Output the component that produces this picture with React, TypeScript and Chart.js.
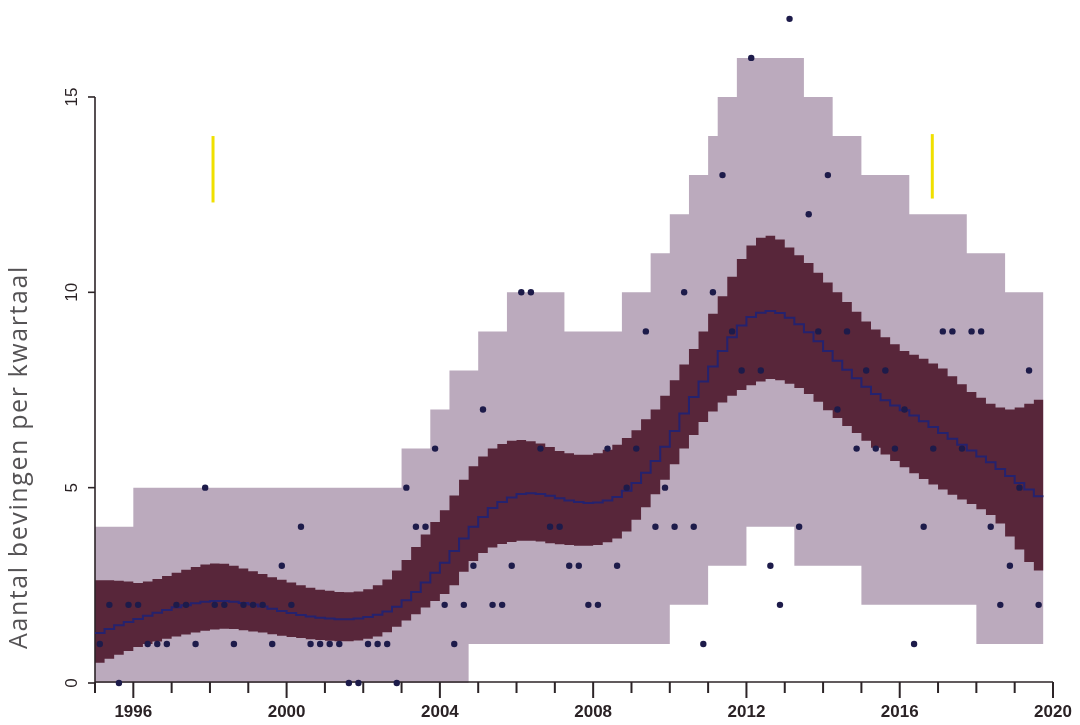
import React, { useEffect, useRef } from 'react';
import { Chart, registerables } from 'chart.js';

Chart.register(...registerables);

// ---- data (quarterly, first quarter = 1995 Q1) ----
const START_YEAR = 1995;

// outer (prediction) band, per quarter
const outerUpper = [
  4, 4, 4, 4,
  5, 5, 5, 5, 5, 5, 5, 5, 5, 5, 5, 5, 5, 5, 5, 5, 5, 5, 5, 5, 5, 5, 5, 5, 5, 5, 5, 5,
  6, 6, 6, 7, 7, 8, 8, 8, 9, 9, 9,
  10, 10, 10, 10, 10, 10,
  9, 9, 9, 9, 9, 9,
  10, 10, 10, 11, 11, 12, 12, 13, 13, 14, 15, 15,
  16, 16, 16, 16, 16, 16, 16,
  15, 15, 15, 14, 14, 14,
  13, 13, 13, 13, 13,
  12, 12, 12, 12, 12, 12,
  11, 11, 11, 11,
  10, 10, 10, 10,
];
const outerLower = [
  0, 0, 0, 0, 0, 0, 0, 0, 0, 0, 0, 0, 0, 0, 0, 0, 0, 0, 0, 0,
  0, 0, 0, 0, 0, 0, 0, 0, 0, 0, 0, 0, 0, 0, 0, 0, 0, 0, 0,
  1, 1, 1, 1, 1, 1, 1, 1, 1, 1, 1, 1, 1, 1, 1, 1, 1, 1, 1, 1, 1,
  2, 2, 2, 2,
  3, 3, 3, 3,
  4, 4, 4, 4, 4,
  3, 3, 3, 3, 3, 3, 3,
  2, 2, 2, 2, 2, 2, 2, 2, 2, 2, 2, 2,
  1, 1, 1, 1, 1, 1, 1,
];

// inner (confidence) band, per quarter
const innerUpper = [
  2.63, 2.63, 2.62, 2.6, 2.56, 2.6, 2.66, 2.74, 2.82, 2.9,
  2.97, 3.03, 3.06, 3.05, 3.0, 2.93, 2.86, 2.79, 2.71, 2.64,
  2.57, 2.5, 2.44, 2.39, 2.36, 2.33, 2.32, 2.34, 2.4, 2.5,
  2.65, 2.88, 3.15, 3.48, 3.8, 4.12, 4.42, 4.8, 5.2, 5.55,
  5.8, 6.0, 6.12, 6.2, 6.22, 6.19, 6.13, 6.04, 5.94, 5.88,
  5.84, 5.84, 5.88, 5.97, 6.1, 6.27, 6.47, 6.75, 7.0, 7.35,
  7.75, 8.15, 8.55, 9.0, 9.45, 9.9, 10.4, 10.85, 11.2, 11.4,
  11.45, 11.35, 11.15, 10.95, 10.75, 10.5, 10.25, 10.0, 9.75, 9.5,
  9.25, 9.05, 8.85, 8.67, 8.5, 8.4, 8.3, 8.18, 8.05, 7.85,
  7.65, 7.45, 7.3, 7.15, 7.05, 7.0, 7.05, 7.15, 7.25,
];
const innerLower = [
  0.52, 0.62, 0.72, 0.82, 0.92, 1.0, 1.06, 1.13, 1.19, 1.24,
  1.29, 1.34, 1.37, 1.39, 1.38, 1.35, 1.32, 1.29, 1.25, 1.21,
  1.18, 1.15, 1.12, 1.1, 1.08, 1.07, 1.07, 1.09, 1.13, 1.19,
  1.3, 1.44, 1.6, 1.76, 1.93, 2.1, 2.28, 2.5, 2.85, 3.12,
  3.33, 3.47, 3.56, 3.61, 3.64, 3.64, 3.62, 3.58, 3.55, 3.53,
  3.51, 3.51, 3.53, 3.6, 3.7, 3.88, 4.18, 4.5, 4.83, 5.2,
  5.6, 6.0, 6.35, 6.68, 6.95, 7.18, 7.35, 7.5, 7.62, 7.72,
  7.78, 7.75, 7.66, 7.55, 7.4, 7.2, 6.98, 6.78, 6.58, 6.4,
  6.2, 6.02, 5.85, 5.68, 5.52, 5.37, 5.22, 5.08, 4.95, 4.82,
  4.7, 4.58, 4.45, 4.3, 4.08, 3.75, 3.42, 3.1, 2.88,
];
const medianLine = [
  1.28, 1.38, 1.48, 1.56, 1.64, 1.72, 1.8, 1.87, 1.94, 1.99,
  2.04, 2.08, 2.1, 2.1, 2.08, 2.05, 2.01, 1.96, 1.9, 1.84,
  1.79, 1.74, 1.7, 1.67, 1.65, 1.63, 1.63, 1.65, 1.69, 1.75,
  1.83, 1.95, 2.12, 2.33, 2.57, 2.82, 3.08, 3.38, 3.7, 4.0,
  4.25, 4.48, 4.63, 4.75, 4.84, 4.86, 4.84, 4.79, 4.73, 4.67,
  4.63, 4.61, 4.62, 4.67, 4.76, 4.92, 5.12, 5.38, 5.68, 6.05,
  6.45, 6.9, 7.32, 7.72, 8.1, 8.5, 8.85, 9.15, 9.37, 9.48,
  9.52, 9.47, 9.35, 9.18, 8.98, 8.75, 8.5, 8.25, 8.02, 7.8,
  7.58, 7.4, 7.24, 7.1, 6.98, 6.85, 6.7, 6.55, 6.4, 6.25,
  6.1, 5.95, 5.8, 5.65, 5.48, 5.3, 5.12, 4.95, 4.78,
];

// observed number of quakes per quarter
const quakeCounts = [
  1, 2, 0, 2, 2, 1, 1, 1, 2, 2,
  1, 5, 2, 2, 1, 2, 2, 2, 1, 3,
  2, 4, 1, 1, 1, 1, 0, 0, 1, 1,
  1, 0, 5, 4, 4, 6, 2, 1, 2, 3,
  7, 2, 2, 3, 10, 10, 6, 4, 4, 3,
  3, 2, 2, 6, 3, 5, 6, 9, 4, 5,
  4, 10, 4, 1, 10, 13, 9, 8, 16, 8,
  3, 2, 17, 4, 12, 9, 13, 7, 9, 6,
  8, 6, 8, 6, 7, 1, 4, 6, 9, 9,
  6, 9, 9, 4, 2, 3, 5, 8, 2,
];

// yellow marker strokes (scan highlights)
const markerYears = [1998.08, 2016.85];
const markerLow = [12.3, 12.4];
const markerHigh = [14.0, 14.05];

const xTickYears = [
  1995, 1996, 1997, 1998, 1999, 2000, 2001, 2002, 2003, 2004, 2005, 2006, 2007,
  2008, 2009, 2010, 2011, 2012, 2013, 2014, 2015, 2016, 2017, 2018, 2019, 2020,
];
const xLabelYears = [1996, 2000, 2004, 2008, 2012, 2016, 2020];
const yTicks = [0, 5, 10, 15];
const yTitle = 'Aantal bevingen per kwartaal';

// ---- helpers ----
const qStart = (i: number) => START_YEAR + i / 4;
const stepSeries = (vals: number[]) => {
  const pts = vals.map((v, i) => ({ x: qStart(i), y: v }));
  pts.push({ x: qStart(vals.length), y: vals[vals.length - 1] });
  return pts;
};

const LIGHT = '#bbaabd';
const DARK = '#58263a';

const axesPlugin = {
  id: 'customAxes',
  afterDatasetDraw(chart: any, args: any) {
    if (args.index !== 4) return;
    const ctx = chart.ctx as CanvasRenderingContext2D;
    const xs = chart.scales.x;
    const ys = chart.scales.y;
    const y0 = ys.getPixelForValue(0) - 1;
    const xLeft = xs.getPixelForValue(xTickYears[0]);
    const xRight = xs.getPixelForValue(xTickYears[xTickYears.length - 1]);
    ctx.save();
    ctx.strokeStyle = '#2c2427';
    ctx.lineCap = 'butt';
    // x axis line
    ctx.lineWidth = 1.6;
    ctx.beginPath();
    ctx.moveTo(xLeft, y0);
    ctx.lineTo(xRight, y0);
    ctx.stroke();
    // x ticks
    ctx.lineWidth = 2;
    xTickYears.forEach((yr) => {
      const px = xs.getPixelForValue(yr);
      const major = xLabelYears.includes(yr);
      ctx.beginPath();
      ctx.moveTo(px, y0);
      ctx.lineTo(px, y0 + (major ? 16 : 11));
      ctx.stroke();
    });
    // x labels
    ctx.fillStyle = '#2a2225';
    ctx.font = 'bold 17px "Liberation Sans", Arial, sans-serif';
    ctx.textAlign = 'center';
    ctx.textBaseline = 'middle';
    xLabelYears.forEach((yr) => {
      ctx.fillText(String(yr), xs.getPixelForValue(yr), 712);
    });
    // y axis line
    const yAxisX = xLeft;
    ctx.lineWidth = 1.6;
    ctx.beginPath();
    ctx.moveTo(yAxisX, ys.getPixelForValue(yTicks[0]));
    ctx.lineTo(yAxisX, ys.getPixelForValue(yTicks[yTicks.length - 1]));
    ctx.stroke();
    // y ticks + labels
    ctx.font = '17px "Liberation Sans", Arial, sans-serif';
    yTicks.forEach((v) => {
      const py = ys.getPixelForValue(v);
      ctx.beginPath();
      ctx.moveTo(yAxisX, py);
      ctx.lineTo(yAxisX - 7, py);
      ctx.stroke();
      ctx.save();
      ctx.translate(72, py);
      ctx.rotate(-Math.PI / 2);
      ctx.fillText(String(v), 0, 0);
      ctx.restore();
    });
    // y title
    ctx.save();
    ctx.translate(20, 457);
    ctx.rotate(-Math.PI / 2);
    ctx.fillStyle = '#555355';
    ctx.font = '25px "Open Sans", "DejaVu Sans", sans-serif';
    try {
      (ctx as any).letterSpacing = '1.6px';
    } catch (e) {
      /* ignore */
    }
    ctx.fillText(yTitle, 0, 0);
    ctx.restore();
    ctx.restore();
  },
};

export default function App() {
  const canvasRef = useRef<HTMLCanvasElement | null>(null);

  useEffect(() => {
    document.body.style.margin = '0';
    const canvas = canvasRef.current;
    if (!canvas) return;

    const dots = quakeCounts
      .map((c, i) => (c === null ? null : { x: qStart(i) + 0.125, y: c }))
      .filter(Boolean) as { x: number; y: number }[];

    const chart = new Chart(canvas, {
      type: 'line',
      data: {
        datasets: [
          {
            label: 'waarnemingen',
            data: dots,
            showLine: false,
            pointRadius: 3.2,
            pointBackgroundColor: '#1d1b4a',
            pointBorderWidth: 0,
            clip: false as any,
          },
          {
            label: 'mediaan',
            data: stepSeries(medianLine),
            stepped: true,
            borderColor: '#25226e',
            borderWidth: 2,
            pointRadius: 0,
            fill: false,
          },
          {
            label: 'marker1',
            data: [
              { x: markerYears[0], y: markerLow[0] },
              { x: markerYears[0], y: markerHigh[0] },
            ],
            borderColor: '#f0e000',
            borderWidth: 3,
            pointRadius: 0,
            fill: false,
          },
          {
            label: 'marker2',
            data: [
              { x: markerYears[1], y: markerLow[1] },
              { x: markerYears[1], y: markerHigh[1] },
            ],
            borderColor: '#f0e000',
            borderWidth: 3,
            pointRadius: 0,
            fill: false,
          },
          {
            label: 'binnen boven',
            data: stepSeries(innerUpper),
            stepped: true,
            borderWidth: 0,
            borderColor: DARK,
            backgroundColor: DARK,
            pointRadius: 0,
            fill: '+1',
          },
          {
            label: 'binnen onder',
            data: stepSeries(innerLower),
            stepped: true,
            borderWidth: 0,
            borderColor: DARK,
            pointRadius: 0,
            fill: false,
          },
          {
            label: 'buiten boven',
            data: stepSeries(outerUpper),
            stepped: true,
            borderWidth: 0,
            borderColor: LIGHT,
            backgroundColor: LIGHT,
            pointRadius: 0,
            fill: '+1',
          },
          {
            label: 'buiten onder',
            data: stepSeries(outerLower),
            stepped: true,
            borderWidth: 0,
            borderColor: LIGHT,
            pointRadius: 0,
            fill: false,
          },
        ],
      },
      options: {
        animation: false,
        responsive: false,
        devicePixelRatio: 1,
        layout: { padding: { left: 95, right: 27, top: 0, bottom: 42 } },
        plugins: {
          legend: { display: false },
          tooltip: { enabled: false },
          title: { display: false },
        },
        scales: {
          x: { type: 'linear', min: 1995, max: 2020, display: false },
          y: { type: 'linear', min: 0, max: 17.38, display: false },
        },
      },
      plugins: [axesPlugin],
    });

    return () => chart.destroy();
  }, []);

  return (
    <div style={{ width: 1080, height: 725, background: '#ffffff' }}>
      <canvas ref={canvasRef} width={1080} height={725} style={{ display: 'block' }} />
    </div>
  );
}
